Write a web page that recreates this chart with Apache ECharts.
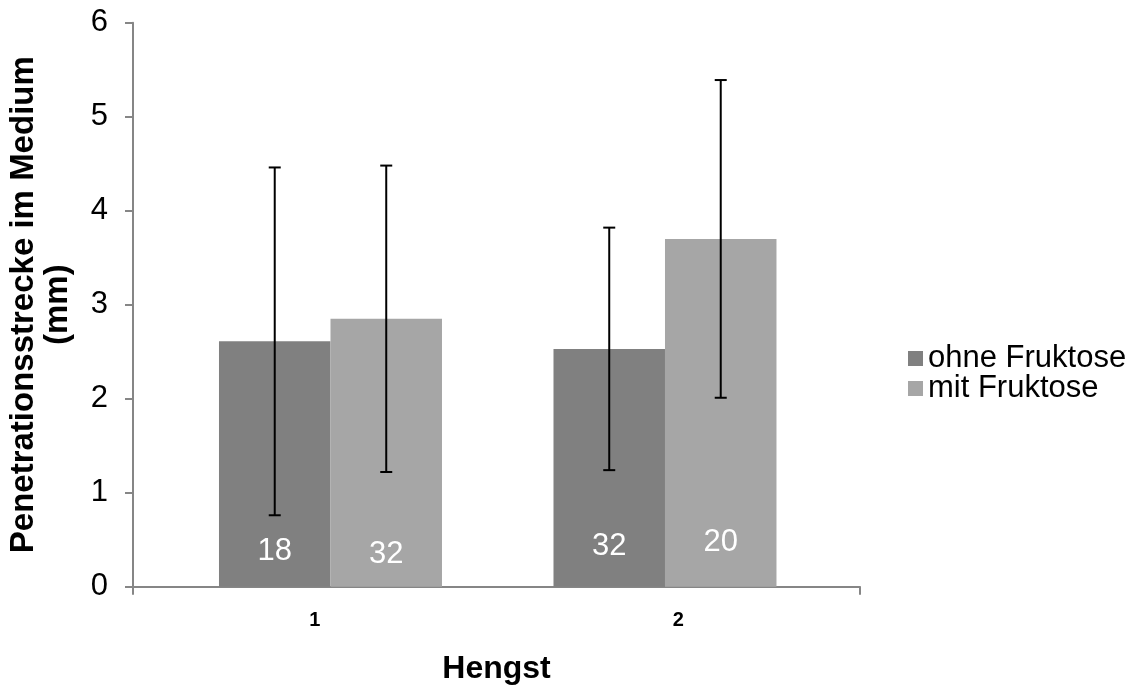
<!DOCTYPE html>
<html>
<head>
<meta charset="utf-8">
<script src="https://cdn.jsdelivr.net/npm/echarts@6/dist/echarts.min.js"></script>
<style>
html,body{margin:0;padding:0;background:#fff;}
#chart{width:1138px;height:688px;}
</style>
</head>
<body>
<div id="chart"></div>
<script>
// ---- data ----
const categories = ['1', '2'];
const seriesNames = ['ohne Fruktose', 'mit Fruktose'];
const meanOhne = [2.61, 2.53];
const meanMit = [2.85, 3.70];
const sdOhne = [1.85, 1.29];
const sdMit = [1.63, 1.69];
const nOhne = [18, 32];
const nMit = [32, 20];
const yTicks = [0, 1, 2, 3, 4, 5, 6];

// ---- styles ----
const FONT = "'Liberation Sans', Arial, sans-serif";
const darkColor = '#808080';
const lightColor = '#A6A6A6';
const axisColor = '#868686';
const BAR_W = 111.5;
const labelOffsetsOhne = [[0, 0], [0, -5]];
const labelOffsetsMit = [[0, 3], [0, -9]];

const chart = echarts.init(document.getElementById('chart'), null, {renderer: 'canvas'});

function barData(means, offsets) {
  return means.map((v, i) => ({
    value: [i + 1, v],
    label: {offset: offsets[i]}
  }));
}

function errData(means, sds) {
  return means.map((v, i) => [i + 1, v - sds[i], v + sds[i]]);
}

function errRender(shift) {
  return function (params, api) {
    const x = api.value(0);
    const lo = api.coord([x, api.value(1)]);
    const hi = api.coord([x, api.value(2)]);
    const cx = lo[0] + shift;
    const cap = 6;
    const style = {stroke: '#000', lineWidth: 2};
    return {
      type: 'group',
      children: [
        {type: 'line', shape: {x1: cx, y1: hi[1], x2: cx, y2: lo[1]}, style: style},
        {type: 'line', shape: {x1: cx - cap, y1: hi[1], x2: cx + cap, y2: hi[1]}, style: style},
        {type: 'line', shape: {x1: cx - cap, y1: lo[1], x2: cx + cap, y2: lo[1]}, style: style}
      ]
    };
  };
}

const xMin = 0.4096, xMax = 2.583;

const option = {
  backgroundColor: '#fff',
  animation: false,
  textStyle: {fontFamily: FONT},
  grid: {left: 133, right: 278, top: 22.7, bottom: 101.3, containLabel: false, outerBoundsMode: 'none'},
  legend: {
    orient: 'vertical',
    left: 903,
    top: 338,
    itemWidth: 15,
    itemHeight: 15,
    itemGap: -1,
    icon: 'rect',
    data: seriesNames,
    textStyle: {fontFamily: FONT, fontSize: 31, color: '#000', lineHeight: 30, padding: [0, 0, 0, 0]}
  },
  xAxis: [
    {
      type: 'category',
      data: categories,
      boundaryGap: true,
      position: 'bottom',
      name: 'Hengst',
      nameLocation: 'middle',
      nameGap: 66,
      nameMoveOverlap: false,
      nameTextStyle: {fontFamily: FONT, fontSize: 32, fontWeight: 'bold', color: '#000'},
      axisLine: {show: true, lineStyle: {color: axisColor, width: 2}},
      axisTick: {show: false},
      axisLabel: {fontFamily: FONT, fontSize: 20, fontWeight: 'bold', color: '#000', margin: 24},
      splitLine: {show: false}
    },
    {
      type: 'value',
      min: xMin,
      max: xMax,
      position: 'bottom',
      axisLine: {show: false},
      axisLabel: {show: false},
      axisTick: {show: true, length: 8, customValues: [xMin, xMax], lineStyle: {color: axisColor, width: 2}},
      splitLine: {show: false}
    }
  ],
  yAxis: {
    type: 'value',
    min: 0,
    max: 6,
    interval: 1,
    name: 'Penetrationsstrecke im Medium\n(mm)',
    nameLocation: 'middle',
    nameGap: 58,
    nameMoveOverlap: false,
    nameRotate: 90,
    nameTextStyle: {fontFamily: FONT, fontSize: 33, fontWeight: 'bold', color: '#000', lineHeight: 34},
    axisLine: {show: true, lineStyle: {color: axisColor, width: 2}},
    axisTick: {show: true, length: 8, lineStyle: {color: axisColor, width: 2}},
    axisLabel: {fontFamily: FONT, fontSize: 31, color: '#000', margin: 25,
      formatter: v => String(yTicks[yTicks.indexOf(v)])},
    splitLine: {show: false}
  },
  series: [
    {
      name: seriesNames[0],
      type: 'bar',
      xAxisIndex: 1,
      barWidth: BAR_W,
      barGap: '0%',
      itemStyle: {color: darkColor},
      label: {
        show: true, position: 'insideBottom', distance: 20,
        color: '#fff', fontFamily: FONT, fontSize: 31,
        formatter: p => String(nOhne[p.dataIndex])
      },
      data: barData(meanOhne, labelOffsetsOhne),
      z: 2
    },
    {
      name: seriesNames[1],
      type: 'bar',
      xAxisIndex: 1,
      barWidth: BAR_W,
      barGap: '0%',
      itemStyle: {color: lightColor},
      label: {
        show: true, position: 'insideBottom', distance: 20,
        color: '#fff', fontFamily: FONT, fontSize: 31,
        formatter: p => String(nMit[p.dataIndex])
      },
      data: barData(meanMit, labelOffsetsMit),
      z: 2
    },
    {
      name: 'err1',
      type: 'custom',
      xAxisIndex: 1,
      renderItem: errRender(-BAR_W / 2),
      data: errData(meanOhne, sdOhne),
      encode: {x: 0, y: [1, 2]},
      z: 5
    },
    {
      name: 'err2',
      type: 'custom',
      xAxisIndex: 1,
      renderItem: errRender(BAR_W / 2),
      data: errData(meanMit, sdMit),
      encode: {x: 0, y: [1, 2]},
      z: 5
    }
  ]
};

chart.setOption(option);
</script>
</body>
</html>
